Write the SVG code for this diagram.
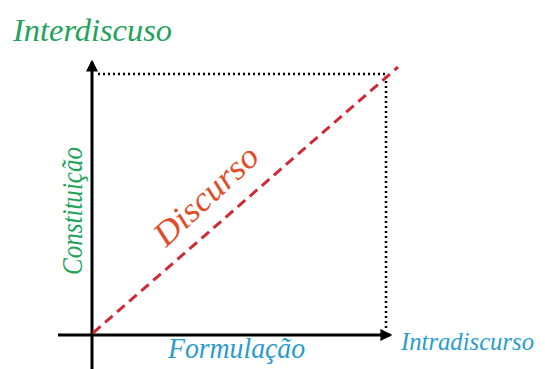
<svg xmlns="http://www.w3.org/2000/svg" width="545" height="369" viewBox="0 0 545 369">
<defs>
<style>
.lbl{font-family:"Liberation Serif","DejaVu Serif",serif;font-style:italic}
.green{fill:#21a35a}
.blue{fill:#2a9ccc}
.axis{stroke:#000;stroke-width:3;fill:none}
.dot{stroke:#000;stroke-width:2.5;stroke-dasharray:2 3;fill:none}
.dash{stroke:#cf2a35;stroke-width:3;stroke-dasharray:10 6;fill:none}
</style>
<marker id="arr" viewBox="0 0 10 10" refX="8" refY="5" markerWidth="4" markerHeight="4" orient="auto" markerUnits="strokeWidth">
<path d="M0,0 L10,5 L0,10 z" fill="#000"/>
</marker>
</defs>
<rect width="545" height="369" fill="#fff"/>
<g id="connectors">
<line class="dot" x1="98" y1="74" x2="386" y2="74"/>
<line class="dot" x1="386" y1="76" x2="386" y2="330"/>
<line class="axis" x1="92" y1="369" x2="92" y2="62" marker-end="url(#arr)"/>
<line class="axis" x1="58" y1="335" x2="390" y2="335" marker-end="url(#arr)"/>
<line class="dash" x1="93" y1="333" x2="398" y2="67"/>
</g>
<g id="interdiscurso">
<text class="lbl green" x="13" y="41" font-size="32" textLength="159" lengthAdjust="spacingAndGlyphs">Interdiscuso</text>
</g>
<g id="intradiscurso">
<text class="lbl blue" x="401" y="350" font-size="26" textLength="133" lengthAdjust="spacingAndGlyphs">Intradiscurso</text>
</g>
<g id="formulacao">
<text class="lbl blue" x="168" y="358" font-size="30" textLength="137" lengthAdjust="spacingAndGlyphs">Formulação</text>
</g>
<g id="constituicao">
<text class="lbl green" transform="translate(82,275) rotate(-90)" x="0" y="0" font-size="30" textLength="128" lengthAdjust="spacingAndGlyphs">Constituição</text>
</g>
<g id="discurso">
<text class="lbl" fill="#e24d27" transform="translate(166,248) rotate(-43)" x="0" y="0" font-size="34" textLength="130" lengthAdjust="spacingAndGlyphs">Discurso</text>
</g>
</svg>
